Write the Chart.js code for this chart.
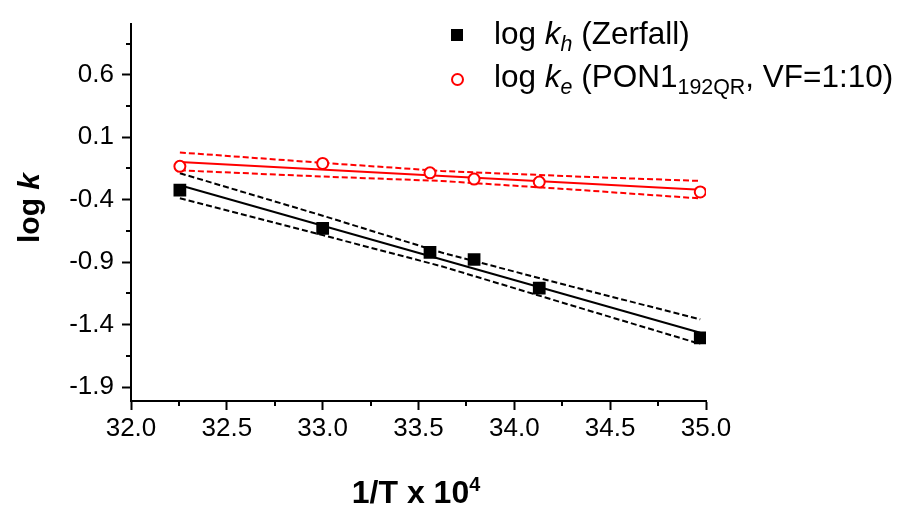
<!DOCTYPE html>
<html><head><meta charset="utf-8">
<script src="https://cdn.jsdelivr.net/npm/chart.js@4.4.1/dist/chart.umd.min.js"></script>
<style>
html,body{margin:0;padding:0;background:#fff;}
#wrap{position:relative;width:904px;height:506px;overflow:hidden;font-family:"Liberation Sans",Arial,sans-serif;color:#000;}
#c{position:absolute;left:0;top:0;}
.t{position:absolute;line-height:0;white-space:nowrap;}
.sub{font-size:0.68em;position:relative;top:0.32em;}
.sup{font-size:0.62em;position:relative;top:-0.62em;}
</style></head><body>
<div id="wrap">
<canvas id="c" width="904" height="506"></canvas>
<div style="position:absolute;left:451px;top:29px;width:12px;height:12px;background:#000;"></div>
<div style="position:absolute;left:451px;top:73px;width:13px;height:13px;border:2px solid #ff0000;border-radius:50%;box-sizing:border-box;background:#fff;"></div>
<div class="t" style="left:494px;top:33px;font-size:31.5px;">log <i>k</i><span class="sub"><i>h</i></span> (Zerfall)</div>
<div class="t" style="left:494px;top:76px;font-size:31.5px;">log <i>k</i><span class="sub"><i>e</i></span> (PON1<span class="sub">192QR</span>, VF=1:10)</div>
<div style="position:absolute;left:29px;top:208px;transform:translate(-50%,-50%) rotate(-90deg);font-size:30px;font-weight:bold;line-height:1;white-space:nowrap;">log <i>k</i></div>
<div class="t" style="left:416px;top:492px;transform:translateX(-50%);font-size:32px;font-weight:bold;">1/T x 10<span class="sup">4</span></div>
</div>
<script>
// measured data (1/T x 10^4 vs log k)
const invT = [32.255, 33.0, 33.56, 33.79, 34.13, 34.97];
const logKh = [-0.324, -0.630, -0.821, -0.879, -1.109, -1.507];
const logKe = [-0.133, -0.110, -0.185, -0.235, -0.259, -0.338];
// regression lines and confidence bands
const fitEnds = [32.255, 34.97];
const khFit = [-0.285, -1.465];
const keFit = [-0.099, -0.320];
const bandX = [32.255, 33.0, 33.62, 34.3, 34.97];
const khUpper = [-0.188, -0.528, -0.823, -1.096, -1.358];
const khLower = [-0.389, -0.684, -0.933, -1.247, -1.555];
const keUpper = [-0.022, -0.105, -0.170, -0.213, -0.250];
const keLower = [-0.165, -0.215, -0.250, -0.318, -0.390];
// ticks
const xMajor = [32.0, 32.5, 33.0, 33.5, 34.0, 34.5, 35.0];
const xMinor = [32.25, 32.75, 33.25, 33.75, 34.25, 34.75];
const yMajor = [-1.9, -1.4, -0.9, -0.4, 0.1, 0.6];
const yMinor = [-1.65, -1.15, -0.65, -0.15, 0.35, 0.85];

const pts = (xs, ys) => xs.map((x, i) => ({x: x, y: ys[i]}));
const RED = '#ff0000';
const lineDs = (xs, ys, color, dash) => ({
  data: pts(xs, ys), showLine: true, pointRadius: 0, borderColor: color,
  borderWidth: 2, borderDash: dash ? [6, 3] : [], fill: false, tension: 0
});

const minorTicks = {
  id: 'minorTicks',
  afterDraw(chart) {
    const ctx = chart.ctx, a = chart.chartArea;
    const xs = chart.scales.x, ys = chart.scales.y;
    ctx.save();
    ctx.strokeStyle = '#000'; ctx.lineWidth = 2;
    ctx.beginPath();
    yMinor.forEach(v => { const p = Math.round(ys.getPixelForValue(v)); ctx.moveTo(a.left - 5, p); ctx.lineTo(a.left, p); });
    xMinor.forEach(v => { const p = Math.round(xs.getPixelForValue(v)); ctx.moveTo(p, a.bottom); ctx.lineTo(p, a.bottom + 5); });
    ctx.stroke();
    ctx.restore();
  }
};

const tickFont = {family: '"Liberation Sans", Arial, sans-serif', size: 26};

new Chart(document.getElementById('c'), {
  type: 'scatter',
  data: {
    datasets: [
      {data: pts(invT, logKh), pointStyle: 'rect', pointRadius: 9, pointBackgroundColor: '#000', pointBorderColor: '#000', pointBorderWidth: 0, showLine: false},
      {data: pts(invT, logKe), pointStyle: 'circle', pointRadius: 5.5, pointBackgroundColor: '#fff', pointBorderColor: RED, pointBorderWidth: 2, showLine: false},
      lineDs(fitEnds, khFit, '#000', false),
      lineDs(bandX, khUpper, '#000', true),
      lineDs(bandX, khLower, '#000', true),
      lineDs(fitEnds, keFit, RED, false),
      lineDs(bandX, keUpper, RED, true),
      lineDs(bandX, keLower, RED, true)
    ]
  },
  options: {
    responsive: false, animation: false, devicePixelRatio: 1,
    layout: {padding: {left: 0, top: 16, right: 198, bottom: 0}},
    plugins: {legend: {display: false}, tooltip: {enabled: false}},
    scales: {
      x: {
        type: 'linear', min: 32.0, max: 35.0,
        afterBuildTicks: s => { s.ticks = xMajor.map(v => ({value: v})); },
        afterFit: s => { s.height = 105; },
        ticks: {font: tickFont, color: '#000', padding: 3, maxRotation: 0, autoSkip: false, callback: v => Number(v).toFixed(1)},
        grid: {drawOnChartArea: false, drawTicks: true, tickLength: 9, tickWidth: 2, tickColor: '#000'},
        border: {display: true, width: 2, color: '#000'}
      },
      y: {
        type: 'linear', min: -2.012, max: 1.01,
        afterBuildTicks: s => { s.ticks = yMajor.map(v => ({value: v})); },
        afterFit: s => { s.width = 131; },
        ticks: {font: tickFont, color: '#000', padding: 8, autoSkip: false, callback: v => Number(v).toFixed(1)},
        grid: {drawOnChartArea: false, drawTicks: true, tickLength: 9, tickWidth: 2, tickColor: '#000'},
        border: {display: true, width: 2, color: '#000'}
      }
    }
  },
  plugins: [minorTicks]
});
</script>
</body></html>
